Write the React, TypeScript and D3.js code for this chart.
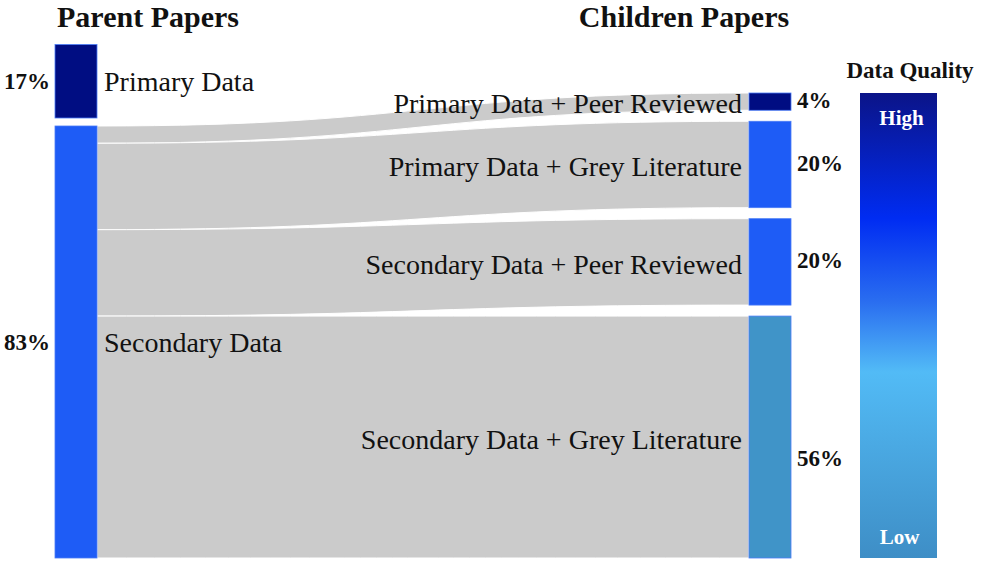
import { useEffect, useRef } from "react";
import * as d3 from "d3";

const parentNames = ["Primary Data", "Secondary Data"];
const parentValues = [17, 83];
const parentColors = ["#000d82", "#1e5cf6"];

const childNames = [
  "Primary Data + Peer Reviewed",
  "Primary Data + Grey Literature",
  "Secondary Data + Peer Reviewed",
  "Secondary Data + Grey Literature",
];
const childValues = [4, 20, 20, 56];
const childColors = ["#000d82", "#1e5cf6", "#1e5cf6", "#4094c8"];

// every flow in the figure leaves from "Secondary Data"
const linkSource = [1, 1, 1, 1];
const linkTarget = [0, 1, 2, 3];
const linkValues = [4, 20, 20, 56];

const qualityStops = [
  { offset: 0, color: "#0b1488" },
  { offset: 0.27, color: "#002cf2" },
  { offset: 0.45, color: "#2a6ef0" },
  { offset: 0.6, color: "#52bbf6" },
  { offset: 1, color: "#3e8ec6" },
];

const SERIF = "'Liberation Serif', 'Times New Roman', serif";

export default function App() {
  const svgRef = useRef<SVGSVGElement | null>(null);

  useEffect(() => {
    if (!svgRef.current) return;
    const width = 983;
    const height = 565;
    const top = 93;
    const bottom = 558;
    const childGap = 11;
    const parentGap = 8;
    const leftX0 = 55;
    const leftX1 = 97;
    const rightX0 = 749;
    const rightX1 = 791;

    const svg = d3.select(svgRef.current);
    svg.selectAll("*").remove();
    svg.attr("width", width).attr("height", height);

    // px per percent, shared by both columns
    const total = d3.sum(childValues);
    const k = (bottom - top - childGap * (childValues.length - 1)) / total;

    // right column nodes
    const children = childValues.map((v, i) => {
      const y0 = top + d3.sum(childValues.slice(0, i)) * k + i * childGap;
      return { name: childNames[i], value: v, y0, y1: y0 + v * k, color: childColors[i] };
    });

    // left column: node height = max(own value, outgoing flow)
    const parentHeights = parentValues.map((v, i) => {
      const out = d3.sum(linkValues.filter((_, j) => linkSource[j] === i));
      return Math.max(v, out) * k;
    });
    const parentTop = bottom - d3.sum(parentHeights) - parentGap * (parentValues.length - 1);
    const parents = parentValues.map((v, i) => {
      const y0 = parentTop + d3.sum(parentHeights.slice(0, i)) + i * parentGap;
      return { name: parentNames[i], value: v, y0, y1: y0 + parentHeights[i], color: parentColors[i] };
    });

    // links
    const srcOffset = parents.map(p => p.y0);
    const links = linkValues.map((v, i) => {
      const t = children[linkTarget[i]];
      const sy0 = srcOffset[linkSource[i]];
      srcOffset[linkSource[i]] += v * k;
      return { sy0, sy1: sy0 + v * k, ty0: t.y0, ty1: t.y1 };
    });

    const xm = d3.interpolateNumber(leftX1, rightX0)(0.5);
    const band = (l: typeof links[number]) => {
      const p = d3.path();
      p.moveTo(leftX1, l.sy0);
      p.bezierCurveTo(xm, l.sy0, xm, l.ty0, rightX0, l.ty0);
      p.lineTo(rightX0, l.ty1);
      p.bezierCurveTo(xm, l.ty1, xm, l.sy1, leftX1, l.sy1);
      p.closePath();
      return p.toString();
    };

    svg.append("g")
      .selectAll("path")
      .data(links)
      .enter()
      .append("path")
      .attr("d", band)
      .attr("fill", "#cbcbcb")
      .attr("stroke", "#ffffff")
      .attr("stroke-width", 1);

    // nodes
    svg.append("g")
      .selectAll("rect")
      .data(parents)
      .enter()
      .append("rect")
      .attr("x", leftX0)
      .attr("y", d => d.y0)
      .attr("width", leftX1 - leftX0)
      .attr("height", d => d.y1 - d.y0)
      .attr("fill", d => d.color)
      .attr("stroke", "#4a7cf7")
      .attr("stroke-width", 0.8);

    svg.append("g")
      .selectAll("rect")
      .data(children)
      .enter()
      .append("rect")
      .attr("x", rightX0)
      .attr("y", d => d.y0)
      .attr("width", rightX1 - rightX0)
      .attr("height", d => d.y1 - d.y0)
      .attr("fill", d => d.color)
      .attr("stroke", "#4a7cf7")
      .attr("stroke-width", 0.8);

    // node labels
    svg.append("g")
      .selectAll("text")
      .data(parents)
      .enter()
      .append("text")
      .attr("x", leftX1 + 7)
      .attr("y", d => (d.y0 + d.y1) / 2)
      .attr("dy", "0.35em")
      .attr("font-family", SERIF)
      .attr("font-size", 28)
      .attr("fill", "#111")
      .text(d => d.name);

    svg.append("g")
      .selectAll("text")
      .data(parents)
      .enter()
      .append("text")
      .attr("x", leftX0 - 5)
      .attr("y", d => (d.y0 + d.y1) / 2)
      .attr("dy", "0.35em")
      .attr("text-anchor", "end")
      .attr("font-family", SERIF)
      .attr("font-weight", 700)
      .attr("font-size", 23)
      .attr("fill", "#111")
      .text(d => `${d.value}%`);

    svg.append("g")
      .selectAll("text")
      .data(children)
      .enter()
      .append("text")
      .attr("x", rightX0 - 7)
      .attr("y", d => (d.y0 + d.y1) / 2 + 2)
      .attr("dy", "0.35em")
      .attr("text-anchor", "end")
      .attr("font-family", SERIF)
      .attr("font-size", 28)
      .attr("fill", "#111")
      .text(d => d.name);

    svg.append("g")
      .selectAll("text")
      .data(children)
      .enter()
      .append("text")
      .attr("x", rightX1 + 6)
      .attr("y", (d, i) => (d.y0 + d.y1) / 2 + (i === children.length - 1 ? 21 : -2))
      .attr("dy", "0.35em")
      .attr("font-family", SERIF)
      .attr("font-weight", 700)
      .attr("font-size", 23)
      .attr("fill", "#111")
      .text(d => `${d.value}%`);

    // column titles
    const title = (x: number, t: string) =>
      svg.append("text")
        .attr("x", x)
        .attr("y", 27)
        .attr("text-anchor", "middle")
        .attr("font-family", SERIF)
        .attr("font-weight", 700)
        .attr("font-size", 30)
        .attr("fill", "#111")
        .text(t);
    title(148, "Parent Papers");
    title(684, "Children Papers");

    // data quality legend
    const grad = svg.append("defs")
      .append("linearGradient")
      .attr("id", "quality")
      .attr("x1", 0).attr("y1", 0).attr("x2", 0).attr("y2", 1);
    grad.selectAll("stop")
      .data(qualityStops)
      .enter()
      .append("stop")
      .attr("offset", d => d.offset)
      .attr("stop-color", d => d.color);

    const lx0 = 860;
    const lx1 = 937;
    const lg = svg.append("g");
    lg.append("rect")
      .attr("x", lx0)
      .attr("y", top)
      .attr("width", lx1 - lx0)
      .attr("height", bottom - top)
      .attr("fill", "url(#quality)");
    lg.append("text")
      .attr("x", 910)
      .attr("y", 78)
      .attr("text-anchor", "middle")
      .attr("font-family", SERIF)
      .attr("font-weight", 700)
      .attr("font-size", 23)
      .attr("fill", "#111")
      .text("Data Quality");
    lg.append("text")
      .attr("x", (lx0 + lx1) / 2 + 3)
      .attr("y", 125)
      .attr("text-anchor", "middle")
      .attr("font-family", SERIF)
      .attr("font-weight", 700)
      .attr("font-size", 21)
      .attr("fill", "#fff")
      .text("High");
    lg.append("text")
      .attr("x", (lx0 + lx1) / 2 + 1)
      .attr("y", 544)
      .attr("text-anchor", "middle")
      .attr("font-family", SERIF)
      .attr("font-weight", 700)
      .attr("font-size", 21)
      .attr("fill", "#fff")
      .text("Low");
  }, []);

  return <svg ref={svgRef} style={{ position: "absolute", left: 0, top: 0, background: "#fff" }} />;
}
